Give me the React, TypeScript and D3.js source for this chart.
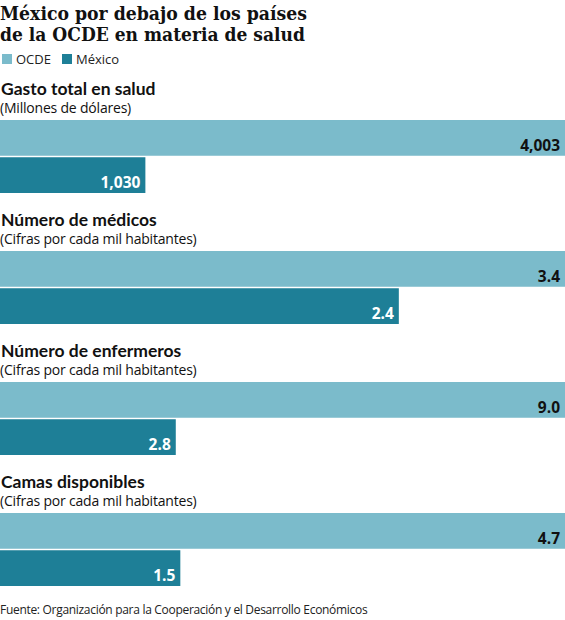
import { useEffect, useRef } from "react"
import * as d3 from "d3"

const panelTitles = [
  "Gasto total en salud",
  "Número de médicos",
  "Número de enfermeros",
  "Camas disponibles",
]
const panelUnits = [
  "(Millones de dólares)",
  "(Cifras por cada mil habitantes)",
  "(Cifras por cada mil habitantes)",
  "(Cifras por cada mil habitantes)",
]
const seriesNames = ["OCDE", "México"]
const ocdeValues = [4003, 3.4, 9.0, 4.7]
const mexicoValues = [1030, 2.4, 2.8, 1.5]
const valueFormats = [",.0f", ".1f", ".1f", ".1f"]

const WIDTH = 565
const HEIGHT = 620
const COLORS = ["#7bbbcb", "#1e7f97"]
const SANS = "'Open Sans', 'Noto Sans', sans-serif"

export default function App() {
  const svgRef = useRef<SVGSVGElement>(null)

  useEffect(() => {
    if (!svgRef.current) return
    document.body.style.margin = "0"

    const svg = d3.select(svgRef.current)
    svg.selectAll("*").remove()
    svg.attr("width", WIDTH).attr("height", HEIGHT)

    svg.append("rect").attr("width", WIDTH).attr("height", HEIGHT).attr("fill", "white")

    // Title, squeezed to the width of the original condensed slab serif
    const titleLines = ["México por debajo de los países", "de la OCDE en materia de salud"]
    const titleWidths = [307, 305]
    titleLines.forEach((line, i) => {
      svg
        .append("text")
        .attr("x", 0)
        .attr("y", 20 + i * 21)
        .attr("font-family", "'DejaVu Serif', serif")
        .attr("font-weight", "bold")
        .attr("font-size", 19)
        .attr("fill", "#111")
        .attr("textLength", titleWidths[i])
        .attr("lengthAdjust", "spacingAndGlyphs")
        .text(line)
    })

    // Legend
    const legend = svg.append("g").attr("transform", "translate(2, 54)")
    const legendX = [0, 60]
    seriesNames.forEach((name, i) => {
      legend
        .append("rect")
        .attr("x", legendX[i])
        .attr("width", 10)
        .attr("height", 10)
        .attr("fill", COLORS[i])
      legend
        .append("text")
        .attr("x", legendX[i] + 14)
        .attr("y", 9.5)
        .attr("font-family", SANS)
        .attr("font-size", 13)
        .attr("fill", "#222")
        .text(name)
    })

    // Panels
    const panelStep = 131
    panelTitles.forEach((t, i) => {
      const g = svg.append("g").attr("transform", `translate(0, ${i * panelStep})`)
      const x = d3.scaleLinear().domain([0, ocdeValues[i]]).range([0, WIDTH])
      const y = d3.scaleBand().domain(seriesNames).range([120, 193]).paddingInner(0.04)
      const fmt = d3.format(valueFormats[i])

      g.append("text")
        .attr("x", 1)
        .attr("y", 95)
        .attr("font-family", "Lato, sans-serif")
        .attr("font-weight", "bold")
        .attr("font-size", 17.5)
        .attr("fill", "#111")
        .text(t)

      g.append("text")
        .attr("x", 0)
        .attr("y", 113)
        .attr("font-family", SANS)
        .attr("font-size", 14)
        .attr("fill", "#111")
        .attr("letter-spacing", -0.2)
        .text(panelUnits[i])

      const values = [ocdeValues[i], mexicoValues[i]]
      values.forEach((v, j) => {
        const name = seriesNames[j]
        g.append("rect")
          .attr("x", 0)
          .attr("y", y(name)!)
          .attr("width", x(v))
          .attr("height", y.bandwidth())
          .attr("fill", COLORS[j])
        g.append("text")
          .attr("x", x(v) - 5)
          .attr("y", y(name)! + y.bandwidth() - 5)
          .attr("text-anchor", "end")
          .attr("font-family", SANS)
          .attr("font-weight", "bold")
          .attr("font-size", 15.5)
          .attr("fill", j === 0 ? "#111" : "white")
          .text(fmt(v))
      })
    })

    // Source
    svg
      .append("text")
      .attr("x", 0)
      .attr("y", 614)
      .attr("font-family", SANS)
      .attr("font-size", 12)
      .attr("fill", "#222")
      .attr("letter-spacing", -0.3)
      .text("Fuente: Organización para la Cooperación y el Desarrollo Económicos")
  }, [])

  return <svg ref={svgRef} style={{ display: "block" }} />
}
